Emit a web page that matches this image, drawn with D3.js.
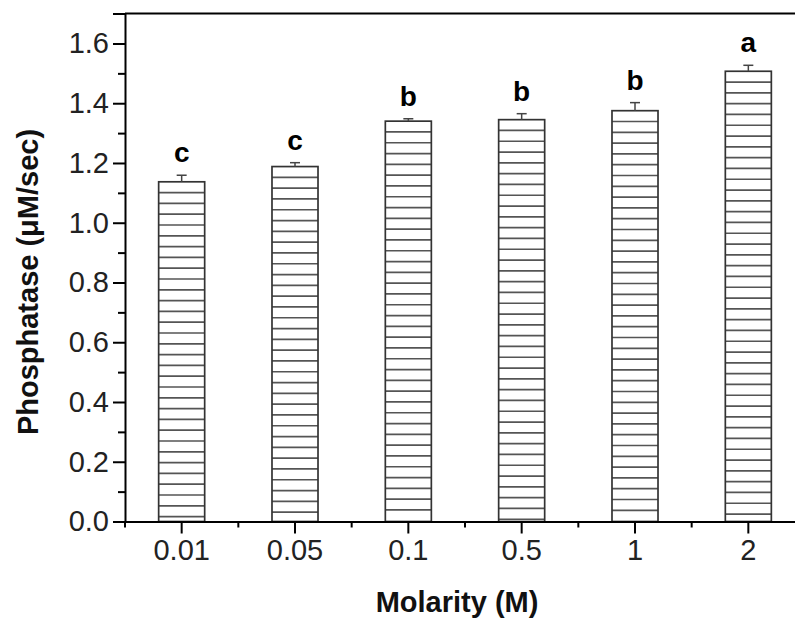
<!DOCTYPE html>
<html><head><meta charset="utf-8">
<script src="https://cdn.jsdelivr.net/npm/d3@7"></script>
<style>html,body{margin:0;padding:0;background:#fff;overflow:hidden}</style>
</head><body>
<svg id="chart" width="795" height="621"></svg>
<script>
const categories = ["0.01", "0.05", "0.1", "0.5", "1", "2"];
const values = [1.137, 1.188, 1.340, 1.345, 1.375, 1.507];
const errors = [0.022, 0.013, 0.008, 0.020, 0.027, 0.020];
const letters = ["c", "c", "b", "b", "b", "a"];
const yTicks = [0, 0.2, 0.4, 0.6, 0.8, 1.0, 1.2, 1.4, 1.6];
const yMinorTicks = [0.1, 0.3, 0.5, 0.7, 0.9, 1.1, 1.3, 1.5];

(function () {
const data = categories.map((c, i) => ({cat: c, v: values[i], e: errors[i], l: letters[i]}));

const svg = d3.select("#chart");
const pL = 125, pR = 805, pT = 13.6, pB = 521.5;
const font = "'Liberation Sans', Arial, sans-serif";

const x = d3.scaleBand().domain(categories).range([pL, pR]).paddingInner(0.594).paddingOuter(0.297);
const y = d3.scaleLinear().domain([0, 1.7]).range([pB, pT]);

// bars
const bars = svg.append("g");
data.forEach(d => {
  const x0 = x(d.cat), w = x.bandwidth(), yt = y(d.v);
  const g = bars.append("g");
  g.append("rect").attr("x", x0).attr("y", yt).attr("width", w).attr("height", pB - yt)
    .attr("fill", "#fff").attr("stroke", "none");
  const step = 10.8;
  const ys = d3.range(yt + step, pB - 2, step);
  g.selectAll("line.h").data(ys).join("line")
    .attr("x1", x0).attr("x2", x0 + w).attr("y1", v => v).attr("y2", v => v)
    .attr("stroke", "#555").attr("stroke-width", 1.7);
  g.append("rect").attr("x", x0).attr("y", yt).attr("width", w).attr("height", pB - yt)
    .attr("fill", "none").attr("stroke", "#333").attr("stroke-width", 1.7);
  const cx = x0 + w / 2;
  g.append("line").attr("x1", cx).attr("x2", cx).attr("y1", yt).attr("y2", y(d.v + d.e))
    .attr("stroke", "#444").attr("stroke-width", 1.5);
  g.append("line").attr("x1", cx - 5).attr("x2", cx + 5).attr("y1", y(d.v + d.e)).attr("y2", y(d.v + d.e))
    .attr("stroke", "#444").attr("stroke-width", 1.5);
  g.append("text").attr("x", cx).attr("y", y(d.v + d.e) - 13)
    .attr("text-anchor", "middle").attr("font-family", font).attr("font-weight", "bold")
    .attr("font-size", 28).attr("fill", "#000").text(d.l);
});

// frame top
svg.append("line").attr("x1", pL).attr("x2", pR).attr("y1", pT).attr("y2", pT)
  .attr("stroke", "#000").attr("stroke-width", 2);

// y axis
const yAxis = d3.axisLeft(y).tickValues(yTicks).tickFormat(d3.format(".1f")).tickSize(12).tickPadding(4);
const gy = svg.append("g").attr("transform", `translate(${pL},0)`).call(yAxis);
gy.select(".domain").attr("stroke", "#000").attr("stroke-width", 2);
gy.selectAll(".tick line").attr("stroke", "#000").attr("stroke-width", 2);
gy.selectAll(".tick text").attr("font-family", font).attr("font-size", 29).attr("fill", "#222");
const yMinor = d3.axisLeft(y).tickValues(yMinorTicks).tickSize(7).tickFormat("");
const gym = svg.append("g").attr("transform", `translate(${pL},0)`).call(yMinor);
gym.select(".domain").remove();
gym.selectAll(".tick line").attr("stroke", "#000").attr("stroke-width", 2);

// x axis
const xAxis = d3.axisBottom(x).tickSize(12).tickPadding(6).tickSizeOuter(0);
const gx = svg.append("g").attr("transform", `translate(0,${pB})`).call(xAxis);
gx.select(".domain").attr("stroke", "#000").attr("stroke-width", 2);
gx.selectAll(".tick line").attr("stroke", "#000").attr("stroke-width", 2);
gx.selectAll(".tick text").attr("font-family", font).attr("font-size", 29).attr("fill", "#222");
const bounds = categories.map(c => x(c) + x.bandwidth() / 2 - x.step() / 2);
svg.append("g").selectAll("line").data(bounds).join("line")
  .attr("x1", v => v).attr("x2", v => v).attr("y1", pB).attr("y2", pB + 6)
  .attr("stroke", "#000").attr("stroke-width", 2);

// titles
svg.append("text").attr("x", 457).attr("y", 612).attr("text-anchor", "middle")
  .attr("font-family", font).attr("font-weight", "bold").attr("font-size", 29).attr("fill", "#111")
  .text("Molarity (M)");
svg.append("text").attr("transform", "translate(38,282) rotate(-90)").attr("text-anchor", "middle")
  .attr("font-family", font).attr("font-weight", "bold").attr("font-size", 29).attr("fill", "#111")
  .text("Phosphatase (μM/sec)");
})();
</script>
</body></html>
